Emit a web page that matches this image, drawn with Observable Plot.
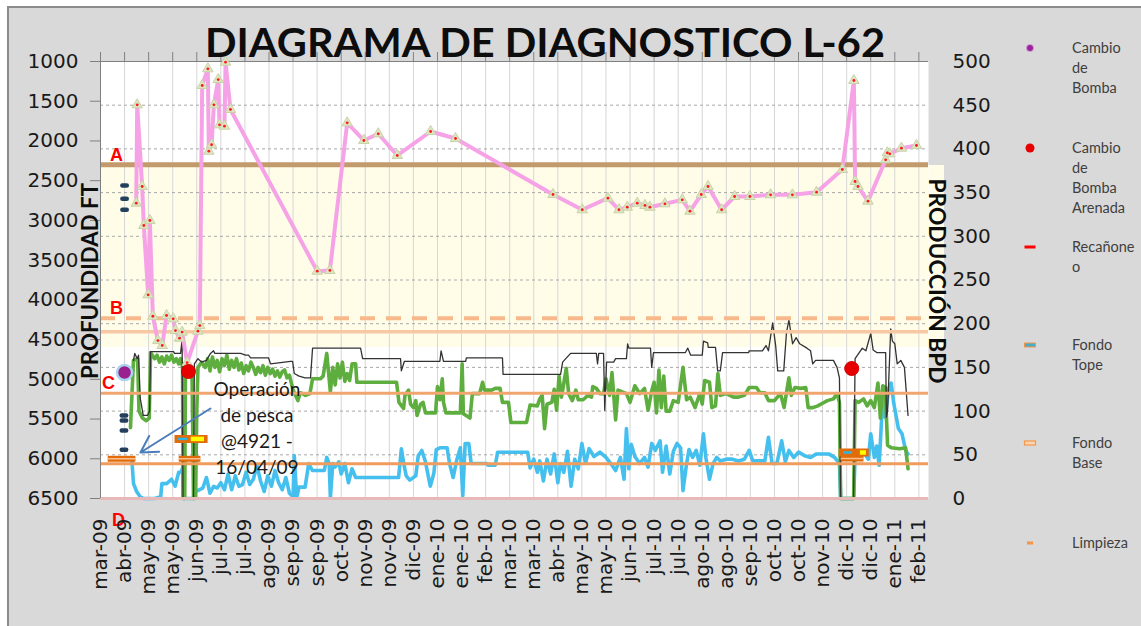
<!DOCTYPE html>
<html><head><meta charset="utf-8">
<script src="https://cdn.jsdelivr.net/npm/d3@7"></script>
<script src="https://cdn.jsdelivr.net/npm/@observablehq/plot@0.6"></script>
<style>
html,body{margin:0;padding:0;background:#fff;overflow:hidden;width:1141px;height:626px;}
#marco{position:absolute;left:7px;top:6px;width:1140px;height:626px;background:#d9d9d9;border:2px solid #8c8c8c;box-sizing:border-box;}
#chart{position:absolute;left:0;top:0;}
</style></head><body>
<div id="marco"></div><div id="chart"></div>
<script>
// ---------- DATA ----------
// x = días desde el primer rótulo (mar-09); rótulos cada 20 días
const tickLabels = ["mar-09","abr-09","may-09","may-09","jun-09","jul-09","jul-09","ago-09","sep-09","sep-09","oct-09","nov-09","nov-09","dic-09","ene-10","ene-10","feb-10","mar-10","mar-10","abr-10","may-10","may-10","jun-10","jul-10","jul-10","ago-10","ago-10","sep-10","oct-10","oct-10","nov-10","dic-10","dic-10","ene-11","feb-11"];
const depthTicks = [1000,1500,2000,2500,3000,3500,4000,4500,5000,5500,6000,6500];
const prodTicks = [0,50,100,150,200,250,300,350,400,450,500];
const xDomain = [0, 688];

// Nivel de fluido (ft) – línea rosada con triángulos
const nivel = [[29.7,2783],[30.5,1545],[34.6,2573],[36.0,3064],[39.6,3936],[41.0,3001],[43.5,4206],[47.7,4512],[51.3,4574],[54.9,4197],[60.4,4239],[62.3,4386],[65.7,4482],[67.8,4406],[72.0,4790],[80.9,4394],[82.5,4323],[84.5,1302],[89.2,1092],[90.0,2129],[92.3,2048],[94.2,1545],[97.8,1227],[98.9,1797],[103.0,1814],[103.9,1009],[108.0,1604],[180.1,3639],[190.6,3630],[205.0,1772],[218.8,1994],[230.8,1910],[246.6,2183],[274.3,1881],[295.0,1969],[376.0,2674],[400.3,2866],[421.6,2720],[430.8,2866],[437.7,2834],[446.0,2783],[452.4,2812],[456.5,2834],[469.0,2791],[483.4,2741],[489.8,2884],[499.2,2674],[504.8,2573],[516.1,2866],[526.9,2699],[539.6,2699],[556.8,2678],[574.9,2678],[595.0,2645],[616.4,2359],[626.0,1239],[627.0,2510],[629.4,2573],[637.7,2758],[652.4,2237],[653.8,2149],[655.8,2162],[665.5,2091],[678.0,2057]];

// Producción (BPD) – eje derecho
const fluidoTotal = [[27.4,158],[28.5,166],[30.5,160],[31.6,164],[33,115],[35.5,95],[39,95],[40.8,100],[41.6,168],[60.7,168],[61.5,166],[66.5,166],[67.8,181],[68.6,0],[77.3,0],[78,154],[81,160],[84,156],[88,158],[91.4,166],[93.9,169],[95,166],[116.4,166],[120.5,164],[123,164],[124.7,161],[139.6,161],[141.3,154],[157.9,157],[159.6,157],[161,143],[165,140],[170,138],[174.5,138],[176.2,172],[216.1,172],[217.8,160],[249.3,160],[250,146],[252.5,157],[282,157],[283,169],[285,157],[303.4,157],[304,161],[334,161],[334.5,142],[382.3,142],[384,156],[390.6,166],[412,166],[413,154],[414,166],[418,166],[419,101],[420.5,156],[426.4,156],[428,160],[437,160],[438,177],[439,172],[457,172],[458,150],[459.5,167],[486,167],[488,172],[490.4,164],[500,164],[501,180],[504.5,178],[505,173],[511,173],[512.8,146],[515,146],[516.9,167],[538.6,167],[539,169],[550,169],[553,175],[555,169],[558.5,201],[561,175],[562.7,146],[567.7,146],[570,190],[572,204],[575.1,177],[578,184],[581,177],[587,172],[590,169],[591.8,154],[594.2,158],[609,158],[612,150],[614,138],[615,0],[625.8,0],[627,160],[630,166],[633,172],[636,169],[640,189],[642,170],[645,167],[652.4,167],[653,93],[654,100],[656.6,194],[658,180],[660,177],[662,154],[665,158],[668,150],[671,95]];

const petroleo = [[24.9,81],[27.4,158],[30.8,160],[32,100],[34.9,92],[38,89],[40.5,92],[41.6,167],[45,160],[47,164],[49,156],[51,162],[53,154],[55,163],[57,158],[59,164],[61,156],[63,160],[65,154],[66.5,160],[68.2,150],[68.6,0],[70,0],[70.6,150],[76,148],[77.3,0],[79,0],[80,100],[81,150],[84,156],[87,150],[89,160],[91,146],[93,162],[95,150],[97,158],[99,145],[101,160],[103,152],[105,164],[107,148],[109,158],[111,150],[113,160],[115,147],[117,155],[119,143],[121,152],[123,146],[125,156],[127,150],[129,142],[131,150],[133,144],[135,152],[137,141],[139,150],[141,143],[143,148],[145,140],[147,146],[149,139],[151,145],[153,147],[155,138],[157,141],[160,124],[162,118],[164,112],[166,121],[168,120],[170.4,118],[174,120],[176.2,137],[182.8,137],[185,140],[188,166],[191,122],[193,150],[195,130],[197,154],[199,138],[201,156],[203,134],[205,143],[207,135],[209,154],[212,154],[213,133],[246,133],[248,110],[251.8,103],[253,118],[256,124],[257.6,108],[260,104],[262,112],[263,95],[266,108],[268,110],[270,98],[278.4,98],[280,128],[282,113],[284,137],[285,110],[287,98],[299,98],[300.5,154],[301.5,97],[307,92],[309,120],[315,120],[317.5,133],[319,124],[325,124],[328,126],[332,126],[334,110],[339,110],[341,87],[354,87],[357,107],[363,106],[365,114],[367,118],[369,80],[371,108],[375,110],[377,125],[379,101],[381,140],[383,116],[385,132],[387,149],[389,120],[392,112],[395,124],[397,113],[401,113],[405,118],[408,116],[409,128],[412,126],[415,120],[418,120],[420,137],[423,118],[425,144],[428,90],[430,124],[437,120],[440,110],[444,129],[448,120],[452,126],[455,101],[458,123],[460,133],[462,98],[464,147],[466,104],[468,140],[470,100],[473,100],[476,112],[480,110],[484,150],[487,113],[490,116],[494,104],[498,120],[500,108],[502,135],[506,133],[508,104],[511,106],[513,143],[515,118],[520,120],[526,116],[530,116],[535,118],[539,127],[545,127],[548,121],[552,121],[555,112],[560,112],[565,120],[568,104],[572,138],[574,118],[577,127],[582,126],[586,127],[588,104],[592,104],[596,106],[600,109],[604,112],[609,114],[612,120],[614,110],[615,0],[625.8,0],[627,112],[630,110],[634,114],[637,106],[640,112],[643,104],[646,132],[648,92],[650,129],[652,127],[654,61],[657,58],[664,57],[669,58],[671,34]];

const agua = [[24.9,46],[26,46],[27.4,17],[30,8],[33,2],[36,0],[45,0],[50,2],[51,17],[55,17],[59,22],[62,14],[65,30],[67,30],[68.2,35],[68.6,0],[77.3,0],[79,8],[85,12],[88,24],[91,6],[94,14],[97,12],[100,18],[103,10],[106,28],[109,10],[112,26],[115,14],[118,16],[121,30],[124,16],[127,22],[130,38],[133,20],[136,8],[139,26],[142,14],[145,32],[148,18],[151,10],[154,24],[157,6],[160,2],[161,49],[163,1],[165,13],[170,13],[173,40],[176,32],[186,32],[188,47],[190,40],[191,1],[193,40],[195,36],[198,42],[200,28],[203,40],[206,18],[209,34],[212,24],[216,24],[247.7,24],[250,57],[252,40],[254,26],[257,21],[262,26],[264,49],[267,55],[270,42],[274,14],[277,29],[279,56],[282,58],[288,58],[290,40],[293,24],[296,44],[299,58],[301,3],[303,63],[306,63],[308,40],[321,40],[322,38],[328,38],[330,53],[355,53],[357,35],[360,45],[363,30],[365,43],[368,20],[371,45],[374,28],[377,51],[380,18],[382,40],[385,30],[388,54],[391,14],[394,45],[397,34],[400,63],[403,40],[406,57],[410,48],[415,53],[420,47],[424,40],[428,32],[432,47],[435,22],[437,80],[439,34],[441,62],[444,48],[448,40],[452,47],[455,36],[458,63],[461,55],[465,66],[467,30],[470,60],[473,28],[476,54],[479,63],[482,58],[484,9],[487,40],[489,56],[492,47],[495,55],[498,38],[501,74],[503,47],[506,22],[509,40],[512,47],[515,43],[520,45],[525,45],[530,43],[535,45],[539,55],[542,43],[552,43],[555,70],[558,40],[562,40],[566,66],[569,42],[572,55],[576,47],[580,53],[585,49],[590,47],[595,51],[605,51],[610,47],[614,40],[615,0],[625.8,0],[627,47],[630,51],[634,53],[638,45],[640,74],[643,47],[645,60],[647,38],[650,116],[652,93],[655,126],[657,132],[659,110],[661,95],[663,80],[666,74],[669,55],[671,51]];

// Niveles de referencia (ft)
const zonaA = [{desde: 2300, hasta: 4600}];
const nivelA = [2300];
const nivelB = [4230];
const nivelB2 = [4400];
const nivelC = [5175];
const nivelC2 = [6063];
const nivelD = [6500];
const rotulosRef = [{t: "A", dia: 13.3, ft: 2300}, {t: "B", dia: 13.3, ft: 4230}, {t: "C", dia: 6.6, ft: 5175}];
const rotuloD = [{t: "D", dia: 15, ft: 6500}];

// Eventos
const cambioBomba = [{dia: 20, ft: 4914}];
const cambioBombaArenada = [{dia: 73.1, ft: 4902}, {dia: 624.2, ft: 4864}];
const perforaciones = [{dia: 20, ft: 2561}, {dia: 20, ft: 2728}, {dia: 20, ft: 2866}, {dia: 19.5, ft: 5455}, {dia: 19.5, ft: 5518}, {dia: 19.5, ft: 5644}, {dia: 19.5, ft: 5888}];
const fondoBase = [{d1: 6, d2: 29, ft: 6000}, {d1: 65, d2: 83, ft: 6000}, {d1: 615, d2: 634, ft: 5997}];
const fondoTope = [{d1: 61.5, d2: 89, ft: 5750}, {d1: 613.4, d2: 638.3, ft: 5921}];
const topeCian = [{d1: 64, d2: 72, ft: 5750}, {d1: 617, d2: 624.5, ft: 5921}];
const topeAmarillo = [{d1: 75, d2: 86, ft: 5750}, {d1: 631, d2: 636, ft: 5921}];
const anotacion = [{dia: 130, ft: 5600, t: "Operación\nde pesca\n@4921 -\n16/04/09"}];
const flecha = [{d1: 91.4, f1: 5367, d2: 33.2, f2: 5921}];

const leyenda = [
  {tipo: "bomba", y: 48, lineas: ["Cambio", "de", "Bomba"]},
  {tipo: "arenada", y: 148, lineas: ["Cambio", "de", "Bomba", "Arenada"]},
  {tipo: "recanoneo", y: 247, lineas: ["Recañone", "o"]},
  {tipo: "tope", y: 345, lineas: ["Fondo", "Tope"]},
  {tipo: "base", y: 443, lineas: ["Fondo", "Base"]},
  {tipo: "limpieza", y: 543, lineas: ["Limpieza"]}
];

// ---------- CHART ----------
const bpdToFt = b => 1000 + (500 - b) * 11;
const diasTicks = tickLabels.map((_, i) => i * 20);
const dashSymbol = {draw(ctx) { ctx.moveTo(-2.2, 0); ctx.lineTo(2.2, 0); }};
const prodY = d => bpdToFt(d[1]);

const chart = Plot.plot({
  width: 1141, height: 626,
  marginLeft: 100, marginRight: 213, marginTop: 61, marginBottom: 128,
  style: {background: "transparent", fontFamily: "DejaVu Sans", overflow: "visible"},
  x: {type: "linear", domain: xDomain},
  y: {domain: [6500, 1000]},
  marks: [
    Plot.frame({fill: "#ffffff", stroke: null}),
    Plot.rect(zonaA, {y1: "desde", y2: "hasta", fill: "#fffde8"}),
    Plot.gridX(diasTicks, {stroke: "#d6d6d6", strokeOpacity: 1}),
    Plot.ruleY(prodTicks.filter(b => b > 0 && b < 500).map(bpdToFt), {stroke: "#a8a8a8", strokeDasharray: "3,3", strokeWidth: 1}),
    // series de producción
    Plot.line(agua, {x: d => d[0], y: prodY, stroke: "#45c0ee", strokeWidth: 3.6}),
    Plot.line(petroleo, {x: d => d[0], y: prodY, stroke: "#5eae3f", strokeWidth: 3.6}),
    Plot.line(fluidoTotal, {x: d => d[0], y: prodY, stroke: "#333333", strokeWidth: 1.3}),
    // niveles de referencia
    Plot.ruleY(nivelA, {stroke: "#c39a6b", strokeWidth: 5}),
    Plot.ruleY(nivelB, {stroke: "#f7b98b", strokeWidth: 4, strokeDasharray: "15,11"}),
    Plot.ruleY(nivelB2, {stroke: "#f8c8a4", strokeWidth: 3.5}),
    Plot.ruleY(nivelC, {stroke: "#f2a66f", strokeWidth: 3}),
    Plot.ruleY(nivelC2, {stroke: "#ef9c5e", strokeWidth: 3}),
    Plot.ruleY(nivelD, {stroke: "#e6b9b8", strokeWidth: 3}),
    Plot.ruleX([xDomain[0]], {stroke: "#808080", strokeWidth: 1}),
    Plot.ruleY([1000], {stroke: "#808080", strokeWidth: 1}),
    // nivel de fluido
    Plot.line(nivel, {x: d => d[0], y: d => d[1], stroke: "#f6a2e6", strokeWidth: 4}),
    Plot.dot(nivel, {x: d => d[0], y: d => d[1], symbol: "triangle", r: 3.9, fill: "#dde5c4", stroke: "#c8d3a6", strokeWidth: 1}),
    Plot.dot(nivel, {x: d => d[0], y: d => d[1], r: 1.4, fill: "#ff1a1a", stroke: null}),
    // eventos
    Plot.dot(perforaciones, {x: "dia", y: "ft", symbol: dashSymbol, fill: "none", stroke: "#243f5c", strokeWidth: 4.5, strokeLinecap: "round"}),
    Plot.link(fondoBase, {x1: "d1", x2: "d2", y1: "ft", y2: "ft", stroke: "#e36c0a", strokeWidth: 6}),
    Plot.link(fondoBase, {x1: "d1", x2: "d2", y1: "ft", y2: "ft", stroke: "#fac090", strokeWidth: 1.5}),
    Plot.link(fondoTope, {x1: "d1", x2: "d2", y1: "ft", y2: "ft", stroke: "#e36c0a", strokeWidth: 8}),
    Plot.link(topeCian, {x1: "d1", x2: "d2", y1: "ft", y2: "ft", stroke: "#2fb5e6", strokeWidth: 2.5}),
    Plot.link(topeAmarillo, {x1: "d1", x2: "d2", y1: "ft", y2: "ft", stroke: "#ffff00", strokeWidth: 4.5}),
    Plot.dot(cambioBomba, {x: "dia", y: "ft", r: 7.5, fill: "#9a1f8f", stroke: "#a9d4ee", strokeWidth: 2.5}),
    Plot.dot(cambioBombaArenada, {x: "dia", y: "ft", r: 7, fill: "#e60000", stroke: "#d40000", strokeWidth: 1}),
    Plot.arrow(flecha, {x1: "d1", y1: "f1", x2: "d2", y2: "f2", stroke: "#4a7ebb", strokeWidth: 2, headLength: 14}),
    Plot.text(anotacion, {x: "dia", y: "ft", text: "t", fontFamily: "Lato", fontSize: 19, lineHeight: 1.37, fill: "#1a1a1a"}),
    Plot.text(rotulosRef, {x: "dia", y: "ft", text: "t", dy: -10, fontFamily: "Liberation Sans", fontWeight: "bold", fontSize: 18, fill: "#ff0000"}),
    Plot.text(rotuloD, {x: "dia", y: "ft", text: "t", dy: 22, fontFamily: "Liberation Sans", fontWeight: "bold", fontSize: 18, fill: "#ff0000"}),
    // ejes
    Plot.axisY(depthTicks, {anchor: "left", tickSize: 10, tickPadding: 12, fontSize: 20, label: null, stroke: "#808080", fill: "#1a1a1a",
      tickFormat: d => String(d)}),
    Plot.axisY(prodTicks.map(bpdToFt), {anchor: "right", tickSize: 0, tickPadding: 24, fontSize: 20, label: null, fill: "#1a1a1a",
      tickFormat: ft => String(Math.round(500 - (ft - 1000) / 11))}),
    Plot.axisX(diasTicks, {anchor: "bottom", tickSize: 0, tickPadding: 20, tickRotate: -90, fontSize: 20, label: null, fill: "#1a1a1a",
      tickFormat: d => tickLabels[Math.round(d / 20)]}),
    Plot.axisX(diasTicks, {anchor: "top", tickSize: 10, label: null, stroke: "#808080", tickFormat: () => ""})
  ]
});
document.getElementById("chart").appendChild(chart);

// ---------- títulos y leyenda ----------
const svg = d3.select(chart);
svg.insert("rect", ":first-child").attr("x", 928).attr("y", 165).attr("width", 16).attr("height", 182).attr("fill", "#fffde8");
svg.append("text").attr("x", 545).attr("y", 57).attr("text-anchor", "middle")
  .attr("font-family", "Lato").attr("font-weight", "bold").attr("font-size", 41)
  .attr("textLength", 680).attr("lengthAdjust", "spacingAndGlyphs").attr("fill", "#0d0d0d")
  .text("DIAGRAMA DE DIAGNOSTICO L-62");
svg.append("text").attr("transform", "translate(98,281) rotate(-90)").attr("text-anchor", "middle")
  .attr("font-family", "Lato").attr("font-weight", "bold").attr("font-size", 22)
  .attr("textLength", 196).attr("lengthAdjust", "spacingAndGlyphs").attr("fill", "#0d0d0d")
  .text("PROFUNDIDAD FT");
svg.append("text").attr("transform", "translate(929,281) rotate(90)").attr("text-anchor", "middle")
  .attr("font-family", "Lato").attr("font-weight", "bold").attr("font-size", 22)
  .attr("textLength", 205).attr("lengthAdjust", "spacingAndGlyphs").attr("fill", "#0d0d0d")
  .text("PRODUCCIÓN BPD");

const lg = svg.append("g").attr("text-anchor", "start");
leyenda.forEach(item => {
  const y = item.y, mx = 1030;
  if (item.tipo === "bomba") lg.append("circle").attr("cx", mx).attr("cy", y).attr("r", 3.6).attr("fill", "#a0229a").attr("stroke", "#c9a3d6").attr("stroke-width", 1);
  if (item.tipo === "arenada") lg.append("circle").attr("cx", mx).attr("cy", y).attr("r", 4.5).attr("fill", "#e60000");
  if (item.tipo === "recanoneo") lg.append("rect").attr("x", mx - 5.5).attr("y", y - 1.5).attr("width", 11).attr("height", 3).attr("fill", "#ff0000");
  if (item.tipo === "tope") lg.append("rect").attr("x", mx - 5.5).attr("y", y - 2).attr("width", 11).attr("height", 4).attr("fill", "#4bacc6").attr("stroke", "#f79646").attr("stroke-width", 1);
  if (item.tipo === "base") lg.append("rect").attr("x", mx - 5.5).attr("y", y - 2).attr("width", 11).attr("height", 4).attr("fill", "#fcd5b5").attr("stroke", "#f79646").attr("stroke-width", 1.2);
  if (item.tipo === "limpieza") lg.append("rect").attr("x", mx - 3).attr("y", y - 1.5).attr("width", 6).attr("height", 3).attr("fill", "#f79646");
  item.lineas.forEach((t, i) => {
    lg.append("text").attr("x", 1072).attr("y", y + i * 20).attr("dy", "0.35em").attr("text-anchor", "start")
      .attr("font-family", "Lato").attr("font-size", 14.5).attr("fill", "#404040").text(t);
  });
});
</script></body></html>
